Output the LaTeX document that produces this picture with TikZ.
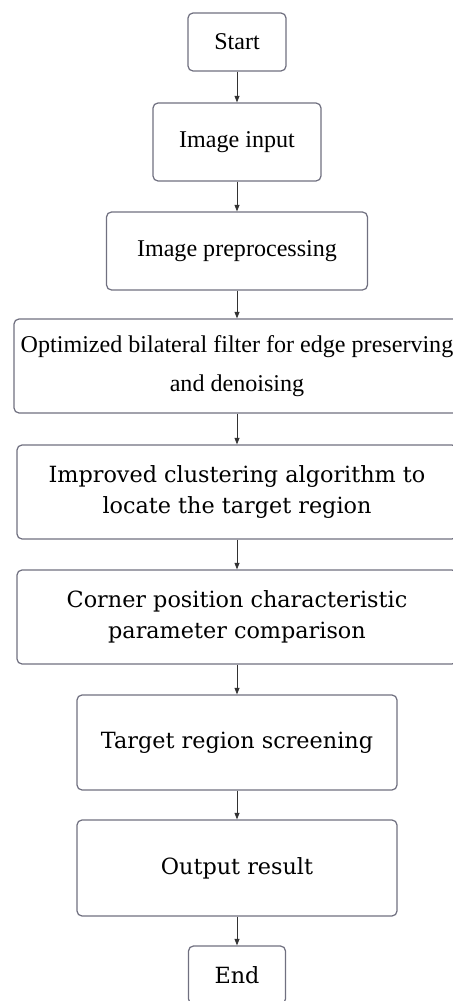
\documentclass[tikz,border=0pt]{standalone}
\usepackage{fontspec}
\setmainfont{Liberation Serif}
\newfontfamily\wideserif{DejaVu Serif}
\usetikzlibrary{arrows.meta}
\definecolor{boxline}{RGB}{112,112,128}
\definecolor{arrowline}{RGB}{50,50,50}
\newcommand{\timesfont}{\fontsize{13.7}{22.2}\selectfont}
\newcommand{\widefont}{\wideserif\fontsize{12.7}{17.6}\selectfont}

\begin{document}
\begin{tikzpicture}[
  stepbox/.style={draw=boxline, line width=0.7pt, rounded corners=0.1cm,
    inner sep=0pt, align=center},
  >={Triangle[length=0.13cm,width=0.1cm]}
]
\useasboundingbox (0,0) rectangle (9.06,20.02);

\node[stepbox, minimum width=1.96cm, minimum height=1.16cm, font=\timesfont]
  (start) at (4.74,19.18) {Start};
\node[stepbox, minimum width=3.36cm, minimum height=1.56cm, font=\timesfont]
  (input) at (4.74,17.18) {Image input};
\node[stepbox, minimum width=5.22cm, minimum height=1.56cm, font=\timesfont]
  (preproc) at (4.74,15.0) {Image preprocessing};
\node[stepbox, minimum width=8.92cm, minimum height=1.88cm, font=\timesfont]
  (filter) at (4.74,12.70) {Optimized bilateral filter for edge preserving\\and denoising};
\node[stepbox, minimum width=8.8cm, minimum height=1.88cm, font=\widefont]
  (cluster) at (4.74,10.18) {Improved clustering algorithm to\\locate the target region};
\node[stepbox, minimum width=8.8cm, minimum height=1.88cm, font=\widefont]
  (corner) at (4.74,7.68) {Corner position characteristic\\parameter comparison};
\node[stepbox, minimum width=6.4cm, minimum height=1.9cm, font=\widefont]
  (screen) at (4.74,5.17) {Target region screening};
\node[stepbox, minimum width=6.4cm, minimum height=1.92cm, font=\widefont]
  (output) at (4.74,2.66) {Output result};
\node[stepbox, minimum width=1.94cm, minimum height=1.16cm, font=\widefont]
  (finish) at (4.74,0.52) {End};

\draw[->, arrowline] (start) -- (input);
\draw[->, arrowline] (input) -- (preproc);
\draw[->, arrowline] (preproc) -- (filter);
\draw[->, arrowline] (filter) -- (cluster);
\draw[->, arrowline] (cluster) -- (corner);
\draw[->, arrowline] (corner) -- (screen);
\draw[->, arrowline] (screen) -- (output);
\draw[->, arrowline] (output) -- (finish);

\end{tikzpicture}
\end{document}
